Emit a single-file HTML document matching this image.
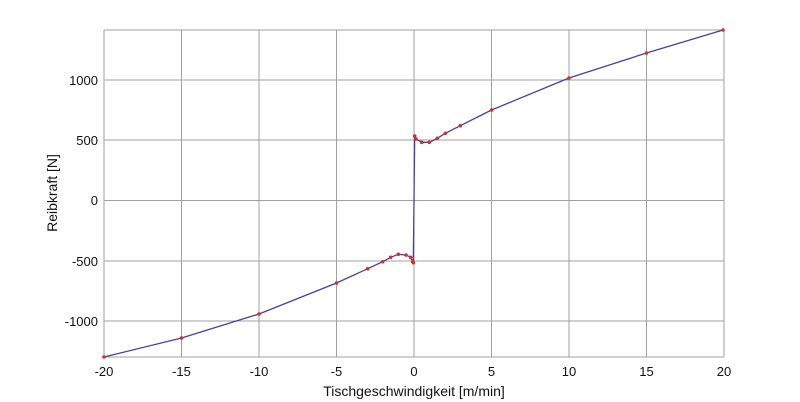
<!DOCTYPE html>
<html><head><meta charset="utf-8"><style>body{margin:0;background:#fff}svg{display:block}</style></head>
<body>
<svg width="800" height="402" xmlns="http://www.w3.org/2000/svg" font-family="Liberation Sans, sans-serif">
<rect width="800" height="402" fill="#fff"/>
<g stroke="#a0a0a0" stroke-width="1">
<line x1="104" y1="30" x2="104" y2="357"/><line x1="181.5" y1="30" x2="181.5" y2="357"/><line x1="259" y1="30" x2="259" y2="357"/><line x1="336.5" y1="30" x2="336.5" y2="357"/><line x1="414" y1="30" x2="414" y2="357"/><line x1="491.5" y1="30" x2="491.5" y2="357"/><line x1="569" y1="30" x2="569" y2="357"/><line x1="646.5" y1="30" x2="646.5" y2="357"/><line x1="724" y1="30" x2="724" y2="357"/>
<line x1="104" y1="30" x2="724" y2="30"/><line x1="104" y1="80" x2="724" y2="80"/><line x1="104" y1="140" x2="724" y2="140"/><line x1="104" y1="200.5" x2="724" y2="200.5"/><line x1="104" y1="261" x2="724" y2="261"/><line x1="104" y1="321" x2="724" y2="321"/><line x1="104" y1="357" x2="724" y2="357"/>
</g>
<polyline fill="none" stroke="#4a3f9a" stroke-width="1.3" points="104,357 181.5,338 259,314 336.5,283 367.7,268.7 382.7,261.7 390.7,257.3 398.3,254.3 406,255 410.7,257.3 412.7,261.7 413.3,262.7 414.7,136 416,139 421.7,142.3 429.3,142.3 437.3,138.3 445.3,133.3 460.3,125.7 491.5,110 569,78 646.5,53 723,30"/>
<g fill="#d03030">
<circle cx="104" cy="357" r="1.8"/><circle cx="181.5" cy="338" r="1.8"/><circle cx="259" cy="314" r="1.8"/><circle cx="336.5" cy="283" r="1.8"/><circle cx="367.7" cy="268.7" r="1.8"/><circle cx="382.7" cy="261.7" r="1.8"/><circle cx="390.7" cy="257.3" r="1.8"/><circle cx="398.3" cy="254.3" r="1.8"/><circle cx="406" cy="255" r="1.8"/><circle cx="410.7" cy="257.3" r="1.8"/><circle cx="412.7" cy="261.7" r="1.8"/><circle cx="413.3" cy="262.7" r="1.8"/><circle cx="414.7" cy="136" r="1.8"/><circle cx="416" cy="139" r="1.8"/><circle cx="421.7" cy="142.3" r="1.8"/><circle cx="429.3" cy="142.3" r="1.8"/><circle cx="437.3" cy="138.3" r="1.8"/><circle cx="445.3" cy="133.3" r="1.8"/><circle cx="460.3" cy="125.7" r="1.8"/><circle cx="491.5" cy="110" r="1.8"/><circle cx="569" cy="78" r="1.8"/><circle cx="646.5" cy="53" r="1.8"/><circle cx="723" cy="30" r="1.8"/>
</g>
<g font-size="13" fill="#111" text-anchor="end">
<text x="98" y="85">1000</text><text x="98" y="145">500</text><text x="98" y="205">0</text><text x="98" y="266">-500</text><text x="98" y="326">-1000</text>
</g>
<g font-size="13" fill="#111" text-anchor="middle">
<text x="104" y="376">-20</text><text x="181.5" y="376">-15</text><text x="259" y="376">-10</text><text x="336.5" y="376">-5</text><text x="414" y="376">0</text><text x="491.5" y="376">5</text><text x="569" y="376">10</text><text x="646.5" y="376">15</text><text x="724" y="376">20</text>
<text x="414" y="396" font-size="14">Tischgeschwindigkeit [m/min]</text>
<text transform="translate(57,193) rotate(-90)" font-size="14">Reibkraft [N]</text>
</g>
</svg>
</body></html>
